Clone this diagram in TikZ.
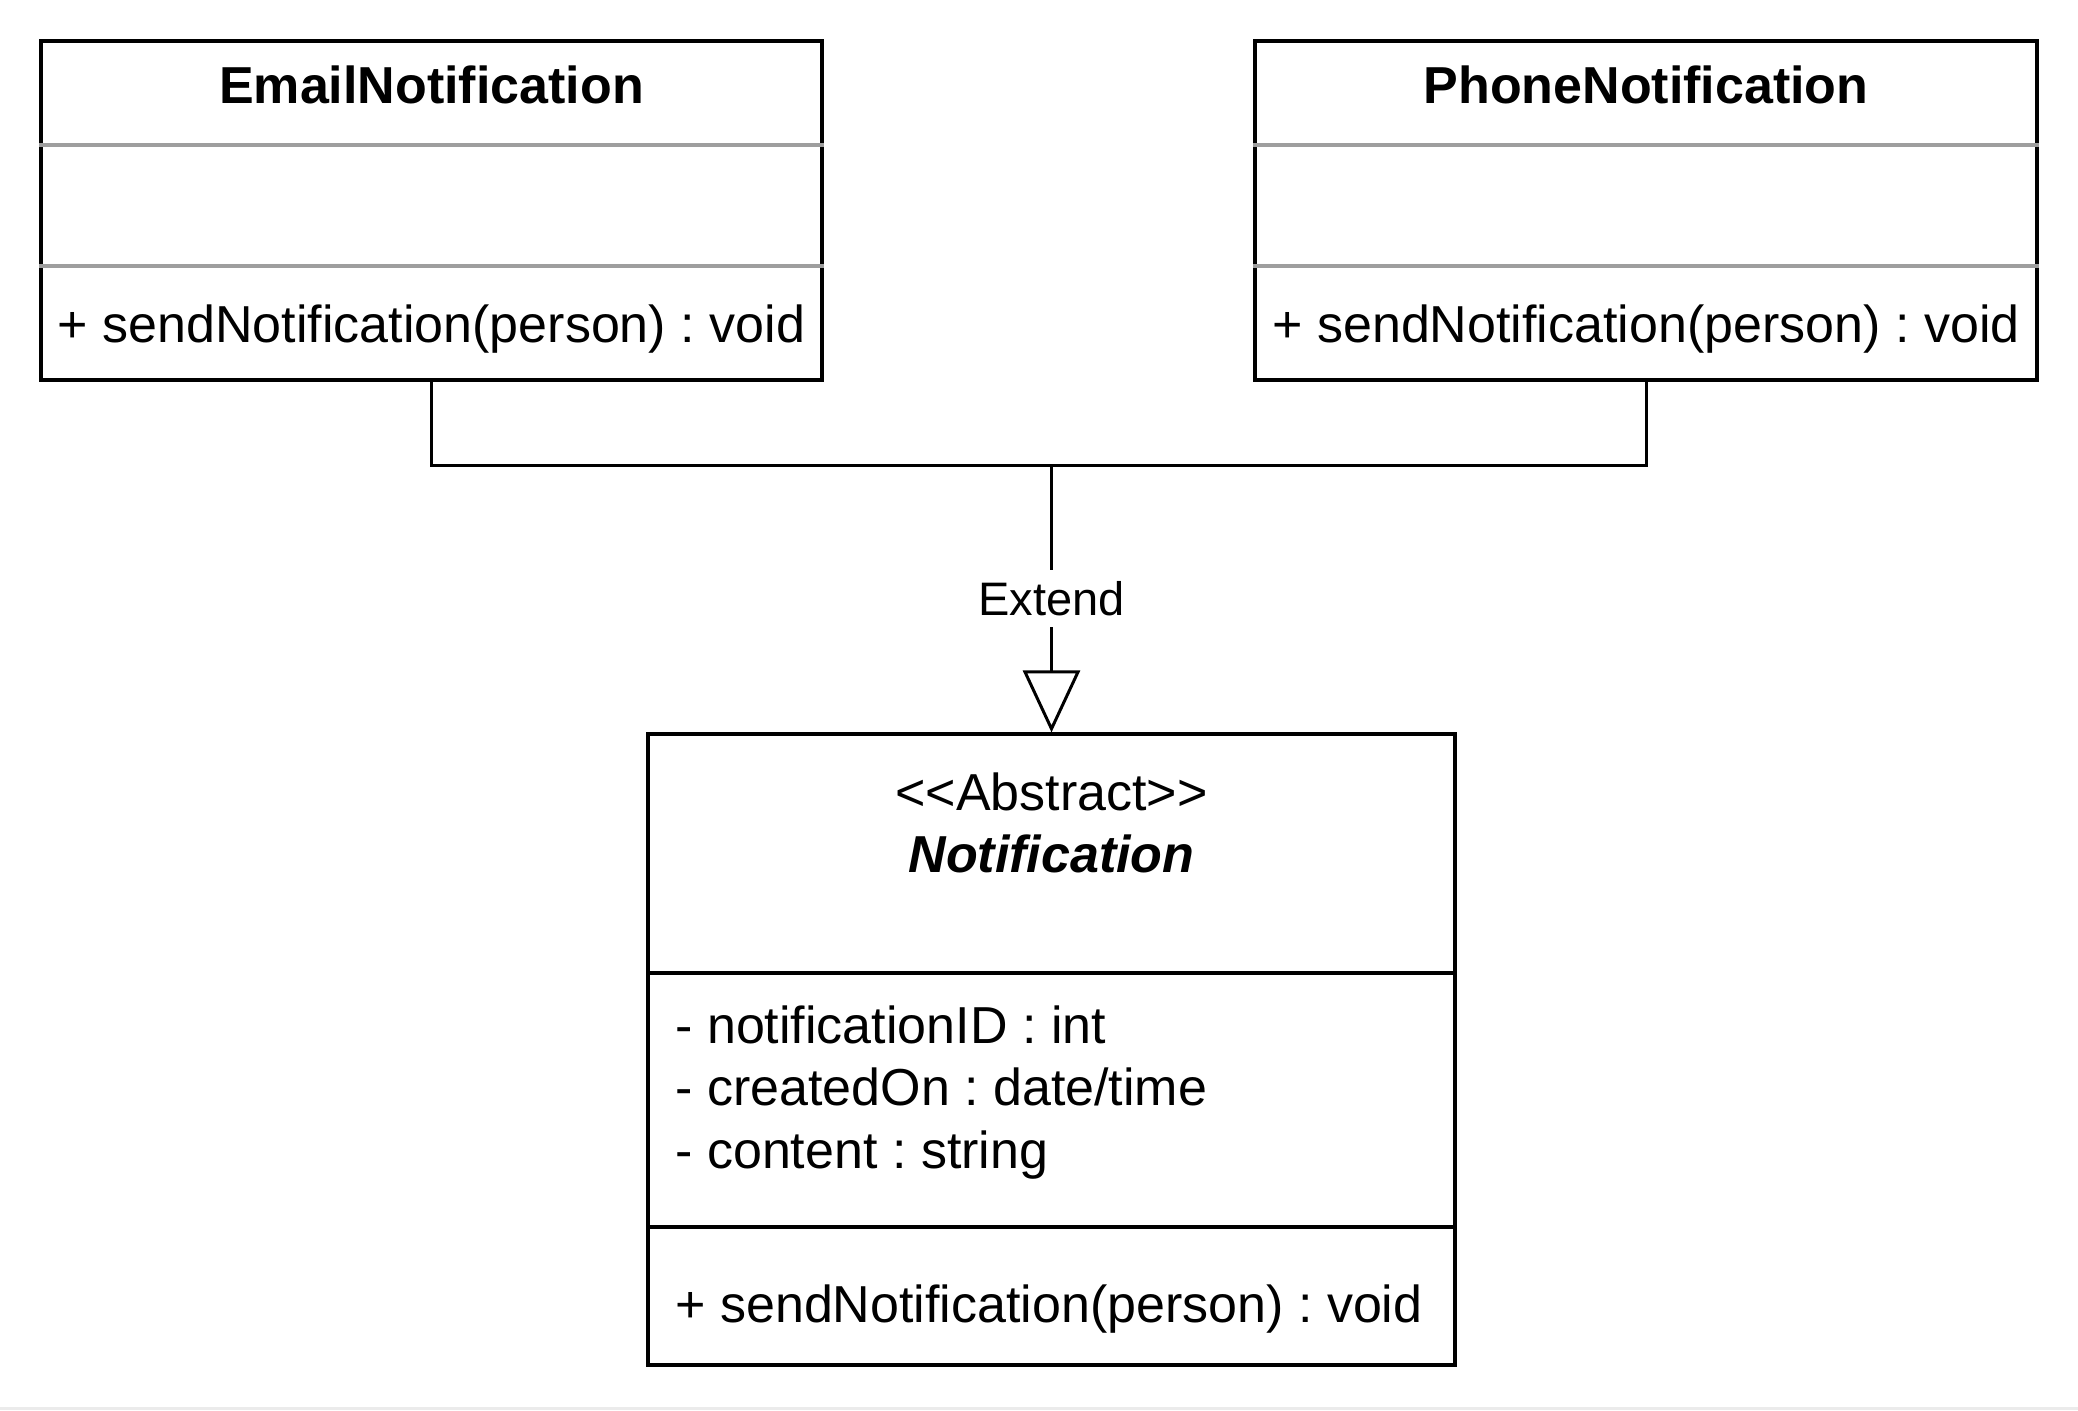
\documentclass[tikz,border=0pt]{standalone}
\usepackage{fontspec}
\setmainfont{Liberation Sans}
\frenchspacing
\usetikzlibrary{arrows.meta,positioning,calc}

\begin{document}
\begin{tikzpicture}[x=1pt,y=-1pt,
  classbox/.style={draw, line width=1.6pt, inner sep=0pt},
  grayline/.style={line width=1.6pt, draw=black!38},
  blackline/.style={line width=1.6pt},
  txt/.style={font=\fontsize{26}{31}\selectfont, anchor=base, inner sep=0pt},
  classname/.style={txt, font=\fontsize{26}{31}\selectfont\bfseries},
  conn/.style={line width=1.5pt}]
\useasboundingbox (0,0) rectangle (1039,705);
\fill[black!8] (0,703.5) rectangle (1039,705);
% EmailNotification class
\node[classbox, minimum width=390.5pt, minimum height=169.5pt] (email) at (215.75,105.25) {};
\draw[grayline] (email.west |- 0,72.5) -- (email.east |- 0,72.5);
\draw[grayline] (email.west |- 0,133) -- (email.east |- 0,133);
\node[classname] (emailname) at (215.75,51.5) {EmailNotification};
\node[txt] (emailop) at (215.75,171) {+ sendNotification(person) : void};
% PhoneNotification class
\node[classbox, minimum width=391pt, minimum height=169.5pt] (phone) at (823,105.25) {};
\draw[grayline] (phone.west |- 0,72.5) -- (phone.east |- 0,72.5);
\draw[grayline] (phone.west |- 0,133) -- (phone.east |- 0,133);
\node[classname] (phonename) at (823,51.5) {PhoneNotification};
\node[txt] (phoneop) at (823,171) {+ sendNotification(person) : void};
% abstract Notification class
\node[classbox, minimum width=403.5pt, minimum height=315.5pt] (notif) at (525.75,524.75) {};
\draw[blackline] (notif.west |- 0,486.5) -- (notif.east |- 0,486.5);
\draw[blackline] (notif.west |- 0,613.5) -- (notif.east |- 0,613.5);
\node[txt] (stereo) at (525.75,405) {{<}{<}Abstract{>}{>}};
\node[classname, font=\fontsize{26}{31}\selectfont\bfseries\itshape] (notifname) at (525.75,436) {Notification};
\foreach \i/\t in {1/{- notificationID : int},2/{- createdOn : date/time},3/{- content : string}} {
  \node[txt, anchor=base west] (attr\i) at (337.5,{521.5+31.25*(\i-1)}) {\t};
}
\node[txt, anchor=base west] (notifop) at (337.5,661) {+ sendNotification(person) : void};
% generalisation connector
\coordinate (join) at (525.75,232.5);
\draw[conn] (email.south) |- (join) -| (phone.south);
\draw[conn, -{Triangle[open, fill=white, length=31pt, width=28.5pt]}] (join) -- node[fill=white, font=\fontsize{23.5}{28}\selectfont, inner xsep=2pt, inner ysep=5.5pt] (extlabel) {Extend} (notif.north);
\end{tikzpicture}
\end{document}
